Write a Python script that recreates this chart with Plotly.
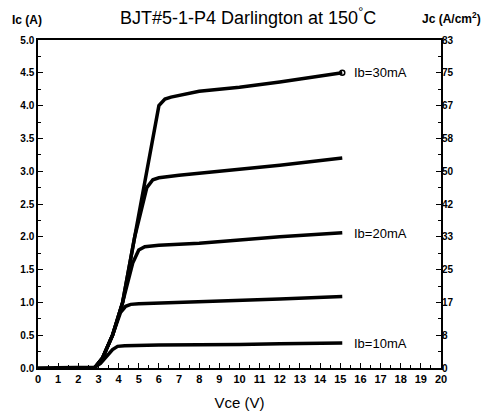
import plotly.graph_objects as go

# Vce (V) / Ic (A) points for each base current
vce_10 = [0, 2.6, 2.8, 3.1, 3.4, 3.7, 3.95, 4.3, 6, 8, 10, 12, 15.1]
ic_10 = [0, 0, 0.01, 0.07, 0.17, 0.28, 0.33, 0.34, 0.35, 0.35, 0.36, 0.37, 0.38]

vce_15 = [2.8, 3.2, 3.7, 4.1, 4.35, 4.6, 5, 6, 8, 10, 12, 15.1]
ic_15 = [0, 0.15, 0.5, 0.85, 0.94, 0.97, 0.98, 0.99, 1.0, 1.02, 1.05, 1.09]

vce_20 = [2.8, 3.2, 3.7, 4.2, 4.7, 5.0, 5.3, 6, 8, 10, 12, 15.1]
ic_20 = [0, 0.15, 0.5, 1.0, 1.6, 1.8, 1.85, 1.87, 1.9, 1.95, 2.0, 2.06]

vce_25 = [2.8, 3.2, 3.7, 4.2, 4.8, 5.4, 5.7, 6.0, 7, 8, 10, 12, 15.1]
ic_25 = [0, 0.15, 0.5, 1.0, 2.0, 2.75, 2.87, 2.9, 2.94, 2.97, 3.03, 3.09, 3.2]

vce_30 = [2.8, 3.2, 3.7, 4.2, 4.8, 5.4, 6.0, 6.3, 6.6, 8, 10, 12, 15.1]
ic_30 = [0, 0.15, 0.5, 1.0, 2.0, 3.0, 4.0, 4.1, 4.13, 4.22, 4.28, 4.36, 4.5]

series = [(vce_10, ic_10), (vce_15, ic_15), (vce_20, ic_20), (vce_25, ic_25), (vce_30, ic_30)]

curve_labels = ["Ib=10mA", "Ib=20mA", "Ib=30mA"]
curve_label_y = [0.38, 2.05, 4.5]

x_ticks = list(range(0, 21))
y_ticks = [0, 0.5, 1.0, 1.5, 2.0, 2.5, 3.0, 3.5, 4.0, 4.5, 5.0]
y_tick_text = ["0.0", "0.5", "1.0", "1.5", "2.0", "2.5", "3.0", "3.5", "4.0", "4.5", "5.0"]
jc_tick_text = ["0", "8", "17", "25", "33", "42", "50", "58", "67", "75", "83"]

FONT = "Arial, Liberation Sans, sans-serif"

fig = go.Figure()
for vx, iy in series:
    fig.add_trace(go.Scatter(x=vx, y=iy, mode="lines",
                             line=dict(color="black", width=3.5),
                             showlegend=False, hoverinfo="skip"))
# small open marker at the end of the top curve
fig.add_trace(go.Scatter(x=[vce_30[-1]], y=[ic_30[-1]], mode="markers",
                         marker=dict(symbol="circle-open", color="black", size=5, line=dict(width=1.5)),
                         showlegend=False, hoverinfo="skip"))
# invisible trace for the secondary axis
fig.add_trace(go.Scatter(x=[0], y=[0], yaxis="y2", mode="markers",
                         marker=dict(opacity=0), showlegend=False, hoverinfo="skip"))

for txt, yy in zip(curve_labels, curve_label_y):
    fig.add_annotation(x=15.6, y=yy, text=txt, showarrow=False, xanchor="left",
                       yanchor="middle", font=dict(family=FONT, size=13, color="black"))

fig.update_layout(
    width=484, height=418,
    margin=dict(l=38, r=43, t=40, b=50),
    paper_bgcolor="white", plot_bgcolor="white",
    xaxis=dict(range=[0, 20], tickvals=x_ticks, ticks="inside", ticklen=5, tickwidth=1,
               tickcolor="black", showline=True, linecolor="black", linewidth=1.5,
               mirror=True, showgrid=False, zeroline=False, automargin=False,
               tickfont=dict(family=FONT, size=11, color="black", weight="bold"),
               minor=dict(dtick=0.5, ticks="inside", ticklen=3, tickcolor="black"),
               title=dict(text="Vce (V)", font=dict(family=FONT, size=15, color="black"), standoff=14)),
    yaxis=dict(range=[0, 5], tickvals=y_ticks, ticktext=y_tick_text, ticks="inside", ticklen=5,
               tickcolor="black", showline=True, linecolor="black", linewidth=1.5,
               mirror=True, showgrid=False, zeroline=False, automargin=False,
               tickfont=dict(family=FONT, size=10, color="black", weight="bold"),
               minor=dict(dtick=0.25, ticks="inside", ticklen=3, tickcolor="black")),
    yaxis2=dict(range=[0, 5], overlaying="y", side="right", tickvals=y_ticks, ticktext=jc_tick_text,
                ticks="inside", ticklen=5, tickcolor="black", showgrid=False, zeroline=False,
                showline=False, automargin=False,
                tickfont=dict(family=FONT, size=10, color="black", weight="bold"),
                minor=dict(dtick=0.25, ticks="inside", ticklen=3, tickcolor="black")),
)

fig.add_annotation(xref="paper", yref="paper", x=0.521, y=1.0, yshift=37, showarrow=False,
                   text="BJT#5-1-P4 Darlington at 150<sup>°</sup>C",
                   font=dict(family=FONT, size=18, color="black"))
fig.add_annotation(xref="paper", yref="paper", x=-0.07, y=1.0, yshift=29, showarrow=False,
                   xanchor="left", text="Ic (A)",
                   font=dict(family=FONT, size=12, color="black", weight="bold"))
fig.add_annotation(xref="paper", yref="paper", x=1.105, y=1.0, yshift=32, showarrow=False,
                   xanchor="right", text="Jc (A/cm<sup>2</sup>)",
                   font=dict(family=FONT, size=12, color="black", weight="bold"))

fig.write_html("out.html", config={"displayModeBar": False},
               post_script="document.body.style.margin='0';")
